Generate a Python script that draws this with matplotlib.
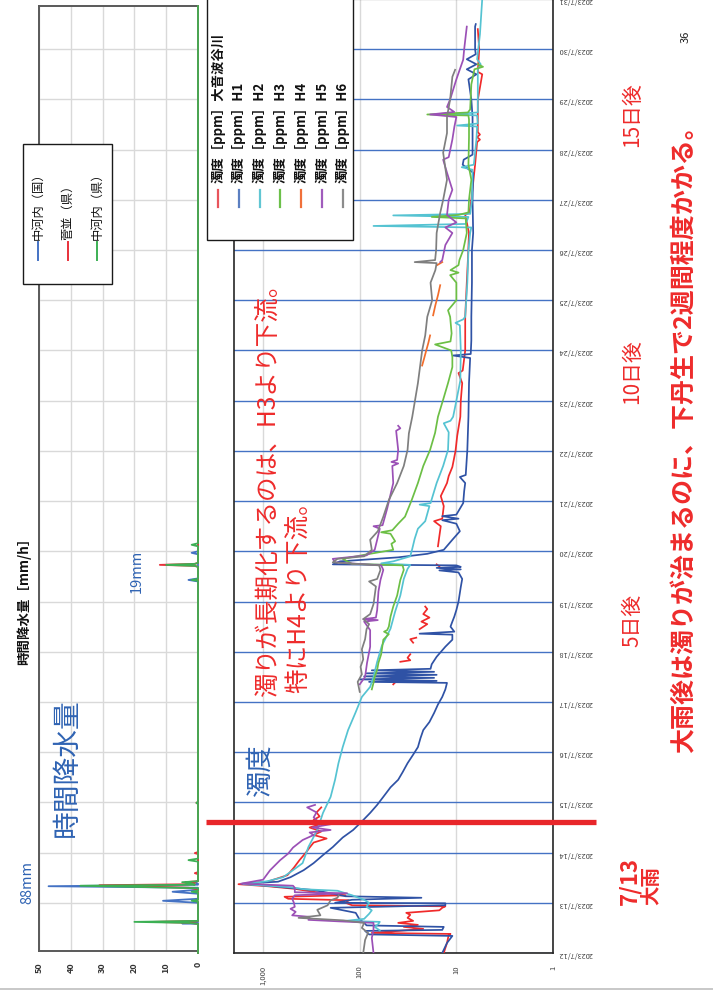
import numpy as np
import matplotlib
matplotlib.use("Agg")
import matplotlib.pyplot as plt
import matplotlib.dates as mdates
import matplotlib.transforms as mtransforms
from matplotlib.patches import Rectangle
from matplotlib.lines import Line2D
from matplotlib.ticker import FuncFormatter, NullLocator
from datetime import datetime

plt.rcParams['font.family'] = ['Noto Sans CJK JP', 'DejaVu Sans']

nan = np.nan
START = datetime(2023, 7, 12)

# ---------------- hourly rainfall [mm/h], time in days from 2023/7/12 0:00 ----------------
rain_labels = ['中河内（国）', '菅並（県）', '中河内（県）']
rain_colors = ['#4472c4', '#e8303a', '#3cb054']

rain_t_kuni = [0.00, 0.58, 0.59, 0.60, 0.62, 0.63, 1.00, 1.04, 1.08, 1.18, 1.22, 1.26,
               1.30, 1.33, 1.36, 1.38, 1.41, 1.44, 7.40, 7.43, 7.46, 7.94, 7.97, 8.00, 18.86]
rain_v_kuni = [0, 0, 5, 0, 6, 0, 0, 11, 0, 0, 8, 0,
               0, 47, 0, 0, 1, 0, 0, 3, 0, 0, 2, 0, 0]

rain_t_sugenami = [0.00, 0.58, 0.60, 0.62, 0.64, 1.02, 1.04, 1.06, 1.27, 1.30, 1.35, 1.37,
                   1.39, 1.41, 1.43, 1.57, 1.59, 1.61, 1.97, 1.99, 2.01, 2.97, 2.99, 3.01,
                   7.69, 7.71, 7.73, 7.75, 7.77, 18.86]
rain_v_sugenami = [0, 0, 2, 14, 0, 0, 1, 0, 0, 3, 31, 2,
                   1, 4, 0, 0, 1, 0, 0, 1, 0, 0, 0.5, 0,
                   0, 1, 12, 1, 0, 0]

rain_t_ken = [0.00, 0.58, 0.60, 0.62, 0.64, 1.02, 1.04, 1.06, 1.20, 1.22, 1.24, 1.29,
              1.34, 1.36, 1.38, 1.41, 1.43, 1.82, 1.85, 1.88, 2.97, 2.99, 3.01, 7.41,
              7.43, 7.45, 7.69, 7.71, 7.73, 7.75, 7.77, 8.10, 8.13, 8.16, 18.86]
rain_v_ken = [0, 0, 3, 20, 0, 0, 2, 0, 0, 2, 0, 0,
              37, 1, 2, 5, 0, 0, 3, 0, 0, 0.5, 0, 0,
              2, 0, 0, 1, 10, 1, 0, 0, 2, 0, 0]

# ---------------- turbidity [ppm], time in days from 2023/7/12 0:00 ----------------
turb_labels = ['濁度［ppm］大音波谷川', '濁度［ppm］H1', '濁度［ppm］H2', '濁度［ppm］H3',
               '濁度［ppm］H4', '濁度［ppm］H5', '濁度［ppm］H6']
turb_colors = ['#f02a2a', '#2f52a5', '#55c3d2', '#6cbf45', '#f26d2b', '#9b50b6', '#7f7f7f']
legend_colors = ['#e8555c', '#5b7fc1', '#61c6d3', '#6cc04a', '#f0703a', '#a05cbc', '#8c8c8c']

t_oto = [0.00, 0.20, 0.36, 0.38, 0.40, 0.44, 0.48, 0.52, 0.56, 0.60, 0.64, 0.70, 0.76, 0.80,
         0.85, 0.90, 0.93, 0.95, 1.00, 1.05, 1.08, 1.12, 1.15, 1.20, 1.28, 1.33, 1.37, 1.42,
         1.55, 1.70, 1.85, 2.00, 2.10, 2.20, 2.28, 2.35, 2.42, 2.50, 2.58, 2.65, 2.72, 2.80,
         2.90, nan,
         5.35, 5.45, 5.50, nan, 5.80, 5.83, 5.88, 5.95, nan, 6.18, 6.25, 6.28, nan,
         6.45, 6.55, 6.60, 6.68, 6.75, 6.85, 6.90, nan, 7.70, 7.74, nan,
         8.10, 8.30, 8.50, 8.60, 8.65, 8.90, 9.10, 9.36, 9.50, 9.68, 10.00, 10.30, 10.68,
         11.00, 11.35, 11.55, 11.60, 12.00, 12.67, 13.35, 13.80, 14.34, 14.70, 14.75, 15.00,
         15.70, 16.15, 16.20, 16.25, 16.30, 16.35, 16.99, 17.50, 17.55, 18.00, 18.40]
v_oto = [13.5, 12.5, 12, 11.5, 75, 40, 22, 35, 25, 40, 28, 32, 30, 33,
         15, 14, 13, 120, 140, 130, 550, 600, 140, 260, 480, 900, 1800, 900,
         560, 480, 420, 360, 330, 300, 220, 300, 250, 330, 240, 300, 260, 280,
         250, nan,
         45, 40, 48, nan, 38, 30, 32, 30, nan, 28, 30, 26, nan,
         24, 20, 23, 19, 22, 20, 21, nan, 15, 16, nan,
         15.5, 15, 14.5, 17, 14, 13.5, 14.5, 12.5, 12, 11, 10.2, 9.8, 9.1,
         9.0, 8.7, 9.5, 8.6, 8.1, 8.1, 7.8, 7.6, 7.4, 8.1, 7.3, 7.0,
         6.4, 6.1, 5.7, 6.1, 5.7, 6.0, 6.0, 5.4, 6.0, 5.8, 6.0]

t_h1 = [0.00, 0.20, 0.34, 0.37, 0.44, 0.46, 0.52, 0.55, 0.62, 0.66, 0.80, 0.90, 0.95, 0.99,
        1.00, 1.06, 1.10, 1.13, 1.25, 1.33, 1.38, 1.42, 1.51, 1.65, 1.79, 1.95, 2.11, 2.30,
        2.45, 2.62, 2.79, 2.95, 3.11, 3.30, 3.45, 3.60, 3.78, 3.95, 4.10, 4.28, 4.44, 4.60,
        4.78, 4.95, 5.10, 5.25, 5.38, 5.40, 5.42, 5.45, 5.48, 5.51, 5.54, 5.57, 5.60, 5.63,
        5.66, 5.75, 5.90, 6.10, 6.24, 6.34, 6.36, 6.40, 6.50, 6.60, 6.70, 6.83, 7.00, 7.29,
        7.45, 7.58, 7.62, 7.64, 7.67, 7.69, 7.72, 7.74, 7.80, 7.88, 7.95, 8.03, 8.23, 8.40,
        8.55, 8.62, 8.65, 8.70, 8.73, 8.96, 9.20, 9.36, 9.48, 9.52, 10.02, 10.68, 11.35,
        11.85, 11.90, 11.93, 12.20, 12.67, 13.35, 14.00, 14.34, 15.00, 15.54, 15.70, 15.80,
        15.90, 16.00, 16.65, 17.00, 17.40, 17.50, 17.60, 17.70, 17.80, 17.90, 18.00, 18.45,
        18.50]
v_h1 = [14, 12.5, 11, 80, 88, 14, 13.5, 85, 92, 100, 110, 200, 13, 13,
        180, 120, 23, 140, 290, 800, 1650, 700, 520, 380, 300, 240, 190, 150,
        117, 95, 78, 66, 57, 48, 40, 36, 32, 28, 25, 23.5, 22, 19,
        17, 15.5, 14, 13, 12.5, 80, 16, 100, 17, 90, 16, 85, 17, 75,
        18.5, 18, 16, 13, 11, 11, 24, 10.5, 11.5, 11, 10.5, 10, 9.5, 9,
        8.7, 9.5, 15, 9, 16, 9, 10, 190, 160, 40, 20, 13.5, 11, 9.2,
        10, 14, 9.5, 14, 10, 8.5, 8.3, 8.1, 9.2, 8.0, 7.7, 7.5, 7.4,
        7.2, 10.8, 7.1, 7.0, 7.0, 6.9, 6.9, 6.7, 6.8, 6.7, 8.6, 8.4,
        6.8, 6.8, 6.8, 7.0, 7.5, 6.2, 7.8, 6.2, 7.8, 6.3, 6.4, 6.4,
        6.3]

t_h2 = [0.45, 0.52, 0.58, 0.62, 0.64, 0.68, 0.78, 0.85, 0.92, 1.00, 1.06, 1.15, 1.24, 1.27,
        1.31, 1.37, 1.43, 1.51, 1.65, 1.79, 2.11, 2.45, 2.79, 3.11, 3.45, 3.78, 4.10, 4.44,
        4.78, 5.10, 5.30, 5.50, 5.80, 6.12, 6.46, 6.80, 7.12, 7.45, 7.65, 7.73, 7.76, 7.80,
        7.90, 8.05, 8.25, 8.45, 8.60, 8.90, 8.93, 8.96, 9.36, 9.70, 10.02, 10.37, 10.55,
        10.60, 10.68, 11.00, 11.40, 12.00, 12.50, 12.55, 12.62, 12.67, 13.35, 14.00, 14.34,
        14.45, 14.48, 14.52, 14.66, 14.69, 14.72, 15.00, 15.60, 15.65, 15.70, 16.20, 16.46,
        16.48, 16.52, 16.68, 16.71, 16.74, 16.99, 17.60, 17.70, 17.80, 18.30, 19.00]
v_h2 = [62, 70, 64, 62, 140, 90, 80, 75, 85, 80, 90, 120, 170, 380,
        520, 1600, 900, 620, 490, 390, 340, 275, 240, 200, 180, 166, 150, 132,
        111, 95, 78, 72, 66, 59, 48, 43, 38, 35, 32, 30, 60, 45,
        30, 28.6, 27, 25, 21, 19, 24, 18.5, 16, 13.7, 12.2, 12, 13.5,
        11.5, 10.8, 10, 9.1, 9.0, 9.2, 10.2, 8.5, 8.1, 7.7, 7.5, 7.2,
        7.0, 72, 8, 7.5, 45, 7.2, 6.9, 6.8, 8.8, 6.6, 6.2, 6.1,
        9.8, 6.0, 6.1, 11, 6.0, 6.0, 6.0, 5.6, 6.1, 5.7, 5.4]

t_h3 = [5.25, 5.38, 5.50, 5.64, 5.78, 5.95, 6.24, 6.35, 6.40, 6.43, 6.50, 6.70, 6.90, 7.12,
        7.43, 7.63, 7.72, 7.75, 7.85, 7.93, 8.03, 8.15, 8.20, 8.35, 8.38, 8.42, 8.55, 8.69,
        9.02, 9.36, 9.70, 10.02, 10.36, 10.68, 11.02, 11.35, 11.67, 11.87, 12.00, 12.12,
        12.18, 12.34, 12.67, 12.80, 13.00, 13.35, 13.50, 13.55, 13.60, 13.70, 13.80, 14.00,
        14.34, 14.63, 14.66, 14.70, 14.75, 15.00, 15.40, 15.70, 16.25, 16.60, 16.68, 16.70,
        16.74, 16.80, 17.30, 17.60, 17.65, 17.70]
v_h3 = [75, 72, 70, 66, 64, 60, 57, 50, 56, 52, 50, 48, 45, 41,
        38, 35, 36, 120, 150, 90, 45, 47, 43, 48, 60, 46, 40, 34,
        29, 25, 22, 18.7, 16.6, 15.5, 13.7, 12.2, 11, 11, 11.3, 16.6,
        11.5, 11.2, 11.6, 12.2, 10, 10, 11.6, 9.5, 11.5, 9.5, 9.3, 8.5,
        7.8, 8.0, 18, 9.5, 7.5, 7.4, 7.0, 7.5, 7.4, 7.4, 7.5, 20,
        7.6, 7.2, 7.0, 6.5, 5.3, 6.0]

t_h4 = [11.70, 11.85, 12.00, 12.15, 12.30, nan, 12.70, 12.90, 13.10, 13.30, nan, 13.70, 13.76]
v_h4 = [22.6, 21.5, 20.5, 19.5, 18.7, nan, 17.4, 16.5, 15.5, 14.7, nan, 15.8, 14.0]

t_h5 = [0.00, 0.30, 0.46, 0.60, 0.63, 0.66, 0.72, 0.75, 0.82, 0.88, 0.92, 1.00, 1.08, 1.15,
        1.19, 1.21, 1.30, 1.34, 1.38, 1.46, 1.65, 1.85, 1.98, 2.10, 2.25, 2.35, 2.40, 2.45,
        2.50, 2.58, 2.62, 2.70, 2.80, 2.90, 2.95, nan,
        5.35, 5.50, 5.78, 6.10, 6.43, 6.60, 6.63, 6.65, 6.68, 6.83, 7.20, 7.43, 7.63, 7.72,
        7.78, 7.85, 7.92, 8.03, 8.23, 8.45, 8.50, 8.52, 8.85, 9.36, 9.70, 9.75, 9.78, 9.82,
        10.02, 10.40, 10.45, 10.50, nan,
        13.76, 13.80, 14.10, 14.34, 14.45, 14.55, 14.70, 15.00, 15.20, 15.54, 15.80, 15.85,
        16.20, 16.45, 16.65, 16.70, 16.75, 16.85, 17.00, 17.40, 17.79, 18.00, 18.45]
v_h5 = [72, 75, 72, 72, 165, 340, 330, 500, 460, 520, 470, 480, 500, 470,
        135, 470, 470, 490, 1700, 1000, 845, 665, 550, 490, 390, 300, 330, 200,
        310, 180, 270, 300, 280, 350, 290, nan,
        100, 88, 84, 78, 78, 90, 65, 92, 68, 66, 64, 61, 57, 60,
        180, 190, 85, 70, 66, 62, 72, 58, 52, 45, 46, 40, 47, 41,
        40, 42, 38, 40, nan,
        14.7, 14, 13, 11, 13, 10, 12.5, 12, 11, 12.5, 13.7, 12,
        11, 10.5, 10, 18.7, 10.5, 12.5, 11.6, 10, 8.5, 8.3, 7.8]

t_h6 = [0.00, 0.26, 0.40, 0.50, 0.60, 0.65, 0.70, 0.75, 0.86, 0.95, 1.05, 1.10, 1.15, nan,
        5.20, 5.40, 5.55, 5.70, 5.85, 6.05, 6.25, 6.45, 6.55, 6.65, 6.75, 6.95, 7.12, 7.30,
        7.40, 7.45, 7.63, 7.72, 7.78, 7.85, 7.90, 8.03, 8.23, 8.40, 8.69, 9.02, 9.36, 9.70,
        10.02, 10.35, 10.68, 11.35, 12.00, 12.30, 12.67, 13.00, 13.35, 13.60, 13.74, 13.76,
        13.80, 14.00, 14.34, 14.74, 15.00, 15.40, 15.94, 16.33, 16.65, 17.00, 17.45, 17.59]
v_h6 = [92, 88, 82, 95, 90, 148, 430, 255, 275, 215, 200, 170, 165, nan,
        100, 105, 95, 98, 92, 95, 88, 85, 80, 92, 78, 72, 70, 68,
        80, 66, 61, 63, 190, 170, 90, 75, 78, 65, 57, 50, 41, 35,
        32, 31, 28.6, 25, 22.6, 21, 20, 17.8, 18.5, 16.5, 16, 27,
        16.6, 16.2, 16, 14.7, 13.7, 12.5, 13.7, 12.5, 12.5, 11.6, 11, 10.3]

turb_t = [t_oto, t_h1, t_h2, t_h3, t_h4, t_h5, t_h6]
turb_v = [v_oto, v_h1, v_h2, v_h3, v_h4, v_h5, v_h6]

log_ticks = [1, 10, 100, 1000]
log_tick_labels = ['1', '10', '100', '1,000']
rain_ticks = [0, 10, 20, 30, 40, 50]

heavy_rain_end_day = 2.61   # red marker across both panels

# ---------------- figure layout (pixel based) ----------------
W, H = 713, 997
fig = plt.figure(figsize=(W / 100, H / 100), dpi=100)
fig.patch.set_facecolor('white')


def fx(px):
    return px / W


def fy(py):
    return 1 - py / H


def to_num(days):
    base = mdates.date2num(START)
    return base + np.asarray(days, dtype=float)


# rainfall panel
ax_r = fig.add_axes([fx(39), fy(951), fx(198) - fx(39), fy(6) - fy(951)])
# turbidity panel (top edge runs just past the page)
ax_t = fig.add_axes([fx(234), fy(953), fx(553) - fx(234), fy(-1) - fy(953)])

# ---------- rainfall ----------
for t, v, c in zip([rain_t_kuni, rain_t_sugenami, rain_t_ken],
                   [rain_v_kuni, rain_v_sugenami, rain_v_ken], rain_colors):
    ax_r.plot(v, to_num(t), color=c, lw=1.3, clip_on=False, zorder=3)

ax_r.set_xlim(50, 0)
ax_r.set_ylim(to_num(0.04), to_num(18.86))
ax_r.set_xticks(rain_ticks)
ax_r.set_xticklabels([str(x) for x in rain_ticks], rotation=90, fontsize=6.5,
                     color='#333333', fontweight='bold')
ax_r.yaxis.set_major_locator(mdates.DayLocator())
ax_r.set_yticklabels([])
ax_r.tick_params(axis='both', length=0, pad=8)
ax_r.grid(True, color='#d9d9d9', lw=1)
ax_r.set_axisbelow(True)
for s in ['left', 'bottom', 'top']:
    ax_r.spines[s].set_color('#595959')
    ax_r.spines[s].set_linewidth(1.4)
ax_r.spines['right'].set_visible(False)

# ---------- turbidity ----------
for t, v, c in zip(turb_t, turb_v, turb_colors):
    ax_t.plot(v, to_num(t), color=c, lw=1.25, zorder=3)

ax_t.set_xscale('log')
ax_t.set_xlim(2000, 1)
ax_t.set_ylim(to_num(0), to_num(19))
ax_t.set_xticks(log_ticks)
ax_t.set_xticklabels(log_tick_labels, rotation=90, fontsize=5.5, color='#404040')
ax_t.xaxis.set_minor_locator(NullLocator())
ax_t.yaxis.set_major_locator(mdates.DayLocator())
ax_t.yaxis.set_major_formatter(FuncFormatter(
    lambda x, pos: (lambda d: f"{d.year}/{d.month}/{d.day}")(mdates.num2date(x))))
ax_t.yaxis.tick_right()
ax_t.tick_params(axis='y', length=0, pad=4, labelsize=5.3, labelrotation=180,
                 labelcolor='#404040')
ax_t.tick_params(axis='x', length=0, pad=9)
ax_t.grid(axis='x', color='#d9d9d9', lw=1)
ax_t.grid(axis='y', color='#4472c4', lw=1)
ax_t.set_axisbelow(True)
for s in ['left', 'bottom', 'right']:
    ax_t.spines[s].set_color('#262626')
    ax_t.spines[s].set_linewidth(1.2)

# heavy-rain marker
blend = mtransforms.blended_transform_factory(ax_t.transAxes, ax_t.transData)
ax_t.plot([-0.088, 1.135], [to_num(heavy_rain_end_day)] * 2, transform=blend,
          color='#e8262a', lw=3.8, clip_on=False, zorder=20, solid_capstyle='butt')

# ---------- legends ----------
fig.add_artist(Rectangle((fx(207), fy(240)), fx(353) - fx(207), fy(-5) - fy(240),
                         transform=fig.transFigure, facecolor='white', edgecolor='#1a1a1a',
                         lw=1.0, zorder=10))
for i, (lab, c) in enumerate(zip(turb_labels, legend_colors)):
    x = 218 + 20.8 * i
    fig.add_artist(Line2D([fx(x), fx(x)], [fy(207), fy(190)], transform=fig.transFigure,
                          color=c, lw=1.6, zorder=11))
    fig.text(fx(x), fy(183), lab, rotation=90, ha='center', va='bottom', fontsize=9.6,
             fontweight='bold', color='#111111', zorder=12)

fig.add_artist(Rectangle((fx(23), fy(284)), fx(112) - fx(23), fy(144) - fy(284),
                         transform=fig.transFigure, facecolor='white', edgecolor='#1a1a1a',
                         lw=1.0, zorder=10))
for x, lab, c in zip([38, 68, 97], rain_labels, rain_colors):
    fig.add_artist(Line2D([fx(x), fx(x)], [fy(260), fy(242)], transform=fig.transFigure,
                          color=c, lw=1.4, zorder=11))
    fig.text(fx(x), fy(240), lab, rotation=90, ha='center', va='bottom', fontsize=8.8,
             color='#111111', zorder=12)

# ---------- text ----------
red = '#ee2b2b'
blue_txt = '#2f63b3'
fig.text(fx(24), fy(598), '時間降水量［mm/h］', rotation=90, ha='center', va='center',
         fontsize=9.7, fontweight='bold', color='#111111')
fig.text(fx(67), fy(768), '時間降水量', rotation=90, ha='center', va='center',
         fontsize=20, color=blue_txt)
fig.text(fx(27), fy(882), '88mm', rotation=90, ha='center', va='center',
         fontsize=10.5, color=blue_txt)
fig.text(fx(137), fy(571), '19mm', rotation=90, ha='center', va='center',
         fontsize=10.5, color=blue_txt)
fig.text(fx(260), fy(770), '濁度', rotation=90, ha='center', va='center',
         fontsize=19, color=blue_txt)
fig.text(fx(268), fy(697), '濁りが長期化するのは、H3より下流。', rotation=90,
         ha='center', va='bottom', fontsize=17.7, color=red)
fig.text(fx(298), fy(693), '特にH4より下流。', rotation=90,
         ha='center', va='bottom', fontsize=17.7, color=red)
fig.text(fx(630), fy(905), '7/13', rotation=90, ha='center', va='bottom',
         fontsize=16, fontweight='bold', color=red)
fig.text(fx(652), fy(905), '大雨', rotation=90, ha='center', va='bottom',
         fontsize=14, fontweight='bold', color=red)
for y, s in [(620, '5日後'), (372, '10日後'), (115, '15日後')]:
    fig.text(fx(632), fy(y), s, rotation=90, ha='center', va='center',
             fontsize=15, color=red)
fig.text(fx(684), fy(753), '大雨後は濁りが治まるのに、下丹生で2週間程度かかる。',
         rotation=90, ha='center', va='bottom', fontsize=18, fontweight='bold', color=red)
fig.text(fx(686), fy(37), '36', rotation=90, ha='center', va='center',
         fontsize=8, color='#222222')

# page edge
fig.add_artist(Line2D([0, 1], [fy(989), fy(989)], transform=fig.transFigure,
                      color='#bfbfbf', lw=1.2))

fig.savefig('out.png', dpi=100)
